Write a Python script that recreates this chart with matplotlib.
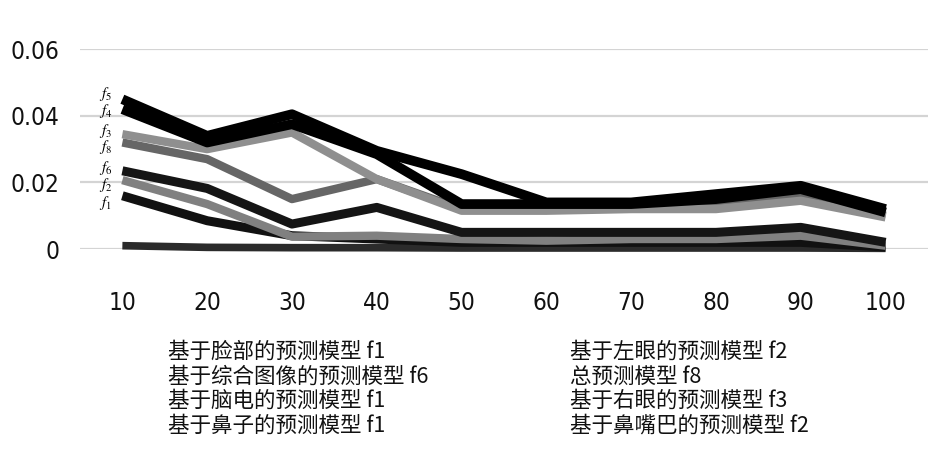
import matplotlib
matplotlib.use("Agg")
import matplotlib.pyplot as plt
from matplotlib import font_manager

# ===============================
# DATA
# ===============================
categories = ["10", "20", "30", "40", "50", "60", "70", "80", "90", "100"]

legend_names = [
    "基于脸部的预测模型 f1", "基于左眼的预测模型 f2",
    "基于综合图像的预测模型 f6", "总预测模型 f8",
    "基于脑电的预测模型 f1", "基于右眼的预测模型 f3",
    "基于鼻子的预测模型 f1", "基于鼻嘴巴的预测模型 f2",
]

# series (top to bottom at x=10)
s_f5 = [0.045, 0.034, 0.0405, 0.0295, 0.0225, 0.014, 0.014, 0.0165, 0.019, 0.012]
s_f4 = [0.042, 0.032, 0.0375, 0.0285, 0.0135, 0.0135, 0.0135, 0.015, 0.018, 0.011]
s_f3 = [0.0345, 0.030, 0.035, 0.021, 0.0115, 0.0115, 0.012, 0.012, 0.0145, 0.0095]
s_f8 = [0.032, 0.027, 0.015, 0.021, 0.012, 0.012, 0.0125, 0.013, 0.016, 0.010]
s_f6 = [0.0235, 0.0182, 0.0075, 0.0125, 0.005, 0.005, 0.005, 0.005, 0.0065, 0.002]
s_f2 = [0.0207, 0.0135, 0.0037, 0.004, 0.003, 0.0025, 0.003, 0.003, 0.004, 0.001]
s_f1 = [0.016, 0.0085, 0.004, 0.003, 0.002, 0.002, 0.002, 0.002, 0.002, 0.0006]
s_base = [0.001, 0.0005, 0.0004, 0.0004, 0.0003, 0.0003, 0.0003, 0.0003, 0.0003, 0.0002]

curve_labels = ["$f_5$", "$f_4$", "$f_3$", "$f_8$", "$f_6$", "$f_2$", "$f_1$"]
curve_label_y = [0.0466, 0.0416, 0.0355, 0.0306, 0.0242, 0.0191, 0.0138]

# ===============================
# STYLE
# ===============================
plt.rcParams["font.family"] = ["Noto Sans CJK SC", "DejaVu Sans"]
plt.rcParams["mathtext.fontset"] = "stix"

# narrow face for the numbers if one is around
avail = {(f.name, f.stretch) for f in font_manager.fontManager.ttflist}
condensed = any(n == "DejaVu Sans" and s == "condensed" for n, s in avail)
tick_size = 17.5 if condensed else 16

fig = plt.figure(figsize=(9.42, 4.49), dpi=100)
ax = fig.add_axes([0.0849, 0.4454, 0.9002, 0.4448])

x = list(range(len(categories)))

# draw bottom-most first so the black ones sit on top
series = [
    (s_base, "#2b2b2b", 5.5),
    (s_f1, "#111111", 6.5),
    (s_f2, "#808080", 6.0),
    (s_f6, "#151515", 6.5),
    (s_f8, "#666666", 6.0),
    (s_f3, "#8f8f8f", 6.0),
    (s_f4, "#000000", 7.0),
    (s_f5, "#000000", 7.0),
]
for vals, col, lw in series:
    ax.plot(x, vals, color=col, lw=lw, solid_joinstyle="round",
            solid_capstyle="butt", clip_on=False, zorder=3)

for lab, yv in zip(curve_labels, curve_label_y):
    ax.text(-0.2, yv, lab, fontsize=11, ha="center", va="center", zorder=4)

ax.set_xlim(-0.5, len(categories) - 0.5)
ax.set_ylim(0, 0.06)
ax.set_yticks([0, 0.02, 0.04, 0.06])
ax.set_yticklabels(["0", "0.02", "0.04", "0.06"])
ax.set_xticks(x)
ax.set_xticklabels(categories)
for lab in ax.get_xticklabels() + ax.get_yticklabels():
    lab.set_fontfamily("DejaVu Sans")
    lab.set_fontstretch("condensed")
    lab.set_fontsize(tick_size)
    lab.set_color("#111111")
ax.tick_params(axis="y", length=0, pad=15)
ax.tick_params(axis="x", length=0, pad=30)

ax.grid(axis="y", color="#d4d4d4", lw=1.6)
ax.set_axisbelow(True)
for sp in ax.spines.values():
    sp.set_visible(False)

# legend: text only, two columns
col_x = [168 / 942, 570 / 942]
row_y = [352, 376.5, 401, 425.5]
for i, name in enumerate(legend_names):
    fig.text(col_x[i % 2], 1 - row_y[i // 2] / 449, name, fontsize=15.5,
             ha="left", va="center", color="#111111")

fig.savefig("out.png", dpi=100)
